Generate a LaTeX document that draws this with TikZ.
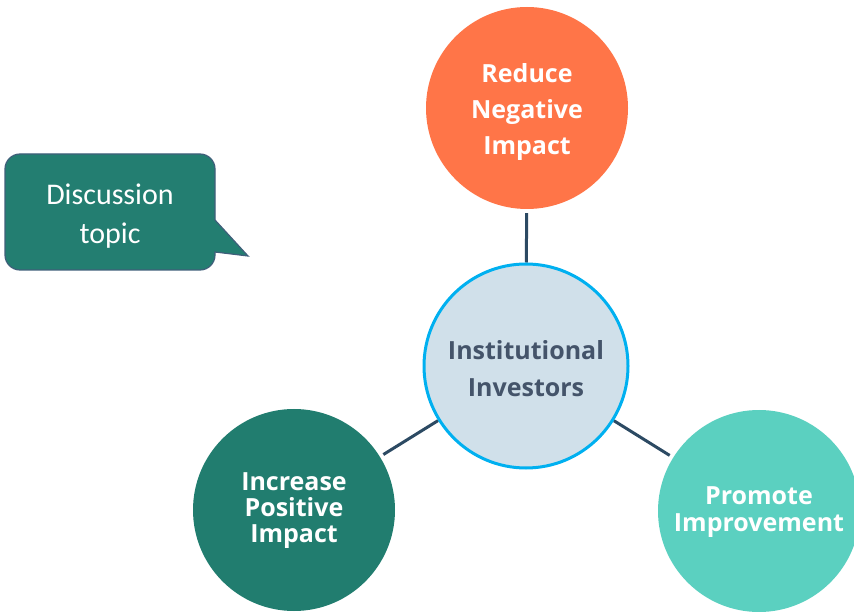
\documentclass[tikz,border=0pt]{standalone}
\usepackage{fontspec}
\setmainfont{Open Sans}
\newfontfamily\calloutfont{Carlito}
\usetikzlibrary{backgrounds}

\definecolor{orangeC}{HTML}{FF7548}
\definecolor{darkteal}{HTML}{217D6F}
\definecolor{lightteal}{HTML}{5BD0C0}
\definecolor{hubfill}{HTML}{D0E0EA}
\definecolor{hubring}{HTML}{00B0F0}
\definecolor{linkcol}{HTML}{2C4A63}
\definecolor{hubtext}{HTML}{44546A}
\definecolor{calloutfill}{HTML}{237E71}
\definecolor{calloutedge}{HTML}{3F5F7A}

\tikzset{
  disc/.style={circle, minimum size=202pt, inner sep=0pt},
  hub/.style={circle, minimum size=204pt, inner sep=0pt,
    fill=hubfill, draw=hubring, line width=3pt},
  caption/.style={align=center, inner sep=0pt, text=white,
    font=\bfseries\fontsize{25}{36}\selectfont},
  link/.style={draw=linkcol, line width=3pt},
  bubble/.style={fill=calloutfill, draw=calloutedge, line width=1.2pt},
}

\begin{document}
\begin{tikzpicture}[x=1pt,y=1pt]
  \useasboundingbox (0,0) rectangle (854,611);
  \clip (0,0) rectangle (854,611);

  % hub and the three outcome circles
  \node[hub] (ctr) at (526,245) {};
  \node[disc, fill=orangeC] (reduce) at (527,503) {};
  \node[disc, fill=darkteal] (increase) at (294,101) {};
  \node[disc, fill=lightteal] (promote) at (759,100) {};

  % circle captions
  \node[caption, text=hubtext, font=\bfseries\fontsize{25}{37}\selectfont]
    (ctrText) at ([yshift=-3pt]ctr.center) {Institutional\\Investors};
  \node[caption] (reduceText) at ([yshift=-4pt]reduce.center)
    {Reduce\\Negative\\Impact};
  \node[caption, font=\bfseries\fontsize{25}{26}\selectfont]
    (increaseText) at ([yshift=-1pt]increase.center)
    {Increase\\Positive\\Impact};
  \node[caption, font=\bfseries\fontsize{25}{27}\selectfont]
    (promoteText) at ([yshift=-1pt]promote.center) {Promote\\Improvement};

  % connectors between the hub and each circle
  \begin{scope}[on background layer]
    \draw[link, shorten <=4pt] (reduce) -- (ctr);
    \draw[link, shorten >=4pt] (ctr) -- (increase);
    \draw[link, shorten >=4pt] (ctr) -- (promote);
  \end{scope}

  % speech bubble with a tail pointing right
  \path[bubble]
    (20,457) -- (200,457) arc[start angle=90, end angle=0, radius=15]
    -- (215,391) -- (248,355) -- (215,359) -- (215,356)
    arc[start angle=0, end angle=-90, radius=15]
    -- (20,341) arc[start angle=270, end angle=180, radius=15]
    -- (5,442) arc[start angle=180, end angle=90, radius=15] -- cycle;
  \node[align=center, text=white, font=\calloutfont\fontsize{30}{39}\selectfont]
    (note) at (110,395) {Discussion\\topic};
\end{tikzpicture}
\end{document}
